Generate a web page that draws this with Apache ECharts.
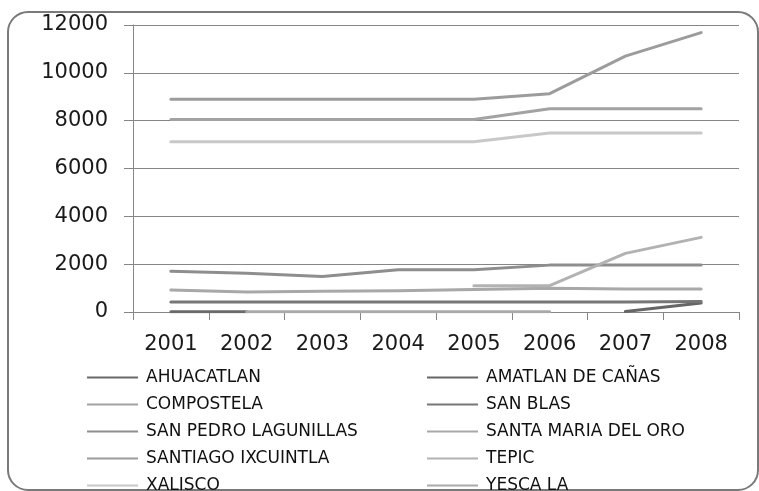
<!DOCTYPE html>
<html>
<head>
<meta charset="utf-8">
<script src="https://cdn.jsdelivr.net/npm/echarts@6/dist/echarts.min.js"></script>
<style>
html,body{margin:0;padding:0;background:#fff;}
#c{width:759px;height:491px;}
</style>
</head>
<body>
<div id="c"></div>
<script>
const years = ['2001','2002','2003','2004','2005','2006','2007','2008'];
const seriesNames = ['AHUACATLAN','AMATLAN DE CAÑAS','COMPOSTELA','SAN BLAS','SAN PEDRO LAGUNILLAS','SANTA MARIA DEL ORO','SANTIAGO IXCUINTLA','TEPIC','XALISCO','YESCA LA'];
const ahuacatlan = [15, 15, null, null, null, null, null, null];
const amatlan = [null, null, null, null, null, null, 20, 380];
const compostela = [8050, 8050, 8050, 8050, 8050, 8500, 8500, 8500];
const sanBlas = [420, 420, 420, 420, 420, 420, 420, 440];
const sanPedro = [1700, 1620, 1480, 1770, 1770, 1960, 1960, 1960];
const santaMaria = [920, 840, 870, 890, 940, 990, 960, 960];
const santiago = [8900, 8900, 8900, 8900, 8900, 9130, 10700, 11680];
const tepic = [null, null, null, null, 1100, 1100, 2450, 3120];
const xalisco = [7120, 7120, 7120, 7120, 7120, 7480, 7480, 7480];
const yesca = [null, 15, 15, 15, 15, 15, null, null];
const seriesValues = [ahuacatlan, amatlan, compostela, sanBlas, sanPedro, santaMaria, santiago, tepic, xalisco, yesca];
const seriesColors = ['#6a6a6a','#666666','#a2a2a2','#767676','#8e8e8e','#a8a8a8','#9c9c9c','#b2b2b2','#c8c8c8','#a9a9a9'];
const yTicks = {min: 0, max: 12000, interval: 2000};

const chart = echarts.init(document.getElementById('c'), null, {renderer: 'canvas'});
const series = seriesNames.map((n, i) => ({
  name: n,
  type: 'line',
  data: seriesValues[i],
  showSymbol: false,
  symbol: 'none',
  connectNulls: false,
  lineStyle: {width: 3, color: seriesColors[i], cap: 'round', join: 'round'},
  itemStyle: {color: seriesColors[i]},
  emphasis: {disabled: true},
  animation: false
}));
const legendCommon = {
  orient: 'vertical',
  icon: 'rect',
  itemWidth: 51,
  itemHeight: 2,
  itemGap: 10,
  padding: 0,
  height: 130,
  textStyle: {fontFamily: 'DejaVu Sans', fontSize: 17, color: '#111111', padding: [0, 0, 0, 3]},
  selectedMode: false
};
chart.setOption({
  animation: false,
  textStyle: {fontFamily: 'DejaVu Sans'},
  graphic: [{
    type: 'rect',
    shape: {x: 8, y: 12, width: 750, height: 478, r: 20},
    style: {fill: 'none', stroke: '#7a7a7a', lineWidth: 2},
    silent: true,
    z: -1
  }],
  grid: {left: 133, right: 20, top: 25, bottom: 179, containLabel: false},
  xAxis: {
    type: 'category',
    data: years,
    boundaryGap: true,
    axisLine: {show: true, lineStyle: {color: '#868686', width: 1}},
    axisTick: {show: true, length: 8, lineStyle: {color: '#868686'}},
    axisLabel: {fontFamily: 'DejaVu Sans', fontSize: 21, color: '#1a1a1a', margin: 22, interval: 0},
    splitLine: {show: false}
  },
  yAxis: {
    type: 'value',
    min: yTicks.min, max: yTicks.max, interval: yTicks.interval,
    axisLine: {show: true, lineStyle: {color: '#868686', width: 1}},
    axisTick: {show: true, length: 9, lineStyle: {color: '#868686'}},
    axisLabel: {fontFamily: 'DejaVu Sans', fontSize: 21, color: '#1a1a1a', margin: 25, formatter: v => String(v)},
    splitLine: {show: true, lineStyle: {color: '#868686', width: 1}}
  },
  legend: [
    Object.assign({}, legendCommon, {left: 87, top: 369, data: seriesNames.filter((_, i) => i % 2 === 0)}),
    Object.assign({}, legendCommon, {left: 427, top: 369, data: seriesNames.filter((_, i) => i % 2 === 1)})
  ],
  series: series
});
</script>
</body>
</html>
